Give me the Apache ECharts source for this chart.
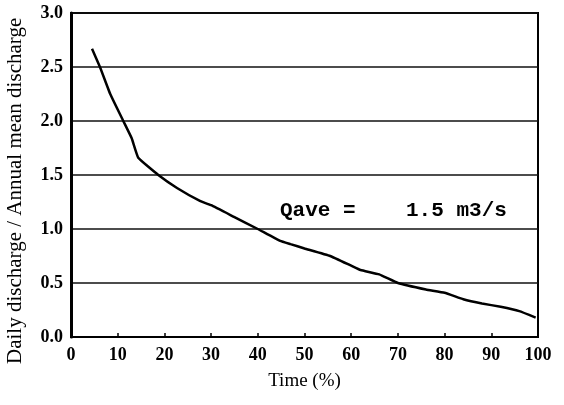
<!DOCTYPE html>
<html>
<head>
<meta charset="utf-8">
<script src="https://cdn.jsdelivr.net/npm/echarts@6/dist/echarts.min.js"></script>
<style>
  html, body { margin: 0; padding: 0; background: #fff; }
  #chart { width: 564px; height: 405px; }
</style>
</head>
<body>
<div id="chart"></div>
<script>
// flow duration curve
const timePct = [4.5, 6.2, 8.4, 11.2, 13, 14.4, 18.7, 22.7, 27.6, 30, 35, 40, 44.8, 47, 50, 55.5, 60, 62, 66, 70, 76, 80, 84, 88, 92, 96, 99.5];
const ratio = [2.67, 2.5, 2.25, 2.0, 1.84, 1.66, 1.5, 1.38, 1.26, 1.22, 1.11, 1.0, 0.89, 0.86, 0.82, 0.75, 0.66, 0.62, 0.58, 0.5, 0.44, 0.41, 0.35, 0.31, 0.28, 0.24, 0.18];
const xTicks = [0, 100, 10];
const yTicks = [0, 3, 0.5];

const serif = "Liberation Serif";
const chart = echarts.init(document.getElementById("chart"));

const option = {
  backgroundColor: "#fff",
  animation: false,
  grid: {
    left: 71,
    right: 26,
    top: 13,
    bottom: 68,
    show: true,
    borderColor: "#000",
    borderWidth: 2,
  },
  xAxis: {
    type: "value",
    min: xTicks[0],
    max: xTicks[1],
    interval: xTicks[2],
    axisLine: { lineStyle: { color: "#000", width: 2 } },
    axisTick: { inside: true, length: 4, lineStyle: { color: "#000", width: 1.5 } },
    splitLine: { show: false },
    axisLabel: {
      color: "#000",
      fontFamily: serif,
      fontWeight: "bold",
      fontSize: 18,
      margin: 9,
    },
    name: "Time (%)",
    nameLocation: "middle",
    nameGap: 35,
    nameTextStyle: { color: "#000", fontFamily: serif, fontSize: 19 },
  },
  yAxis: {
    type: "value",
    min: yTicks[0],
    max: yTicks[1],
    interval: yTicks[2],
    axisLine: { show: true, lineStyle: { color: "#000", width: 3 } },
    axisTick: { show: false },
    splitLine: { show: true, lineStyle: { color: "#111", width: 1.5 } },
    axisLabel: {
      color: "#000",
      fontFamily: serif,
      fontWeight: "bold",
      fontSize: 18,
      margin: 8,
      formatter: (v) => v.toFixed(1),
    },
  },
  graphic: [
    {
      type: "text",
      x: 15,
      y: 364,
      rotation: Math.PI / 2,
      style: {
        text: "Daily discharge / Annual mean discharge",
        fill: "#000",
        font: "21px " + serif,
        textAlign: "left",
        textVerticalAlign: "middle",
      },
    },
    {
      type: "text",
      x: 280,
      y: 211,
      style: {
        text: "Qave =    1.5 m3/s",
        fill: "#000",
        font: "bold 21px 'Liberation Mono'",
        textAlign: "left",
        textVerticalAlign: "middle",
      },
    },
  ],
  series: [
    {
      type: "line",
      data: timePct.map((t, i) => [t, ratio[i]]),
      showSymbol: false,
      smooth: 0.1,
      lineStyle: { color: "#000", width: 2.5 },
    },
  ],
};

chart.setOption(option);
</script>
</body>
</html>
